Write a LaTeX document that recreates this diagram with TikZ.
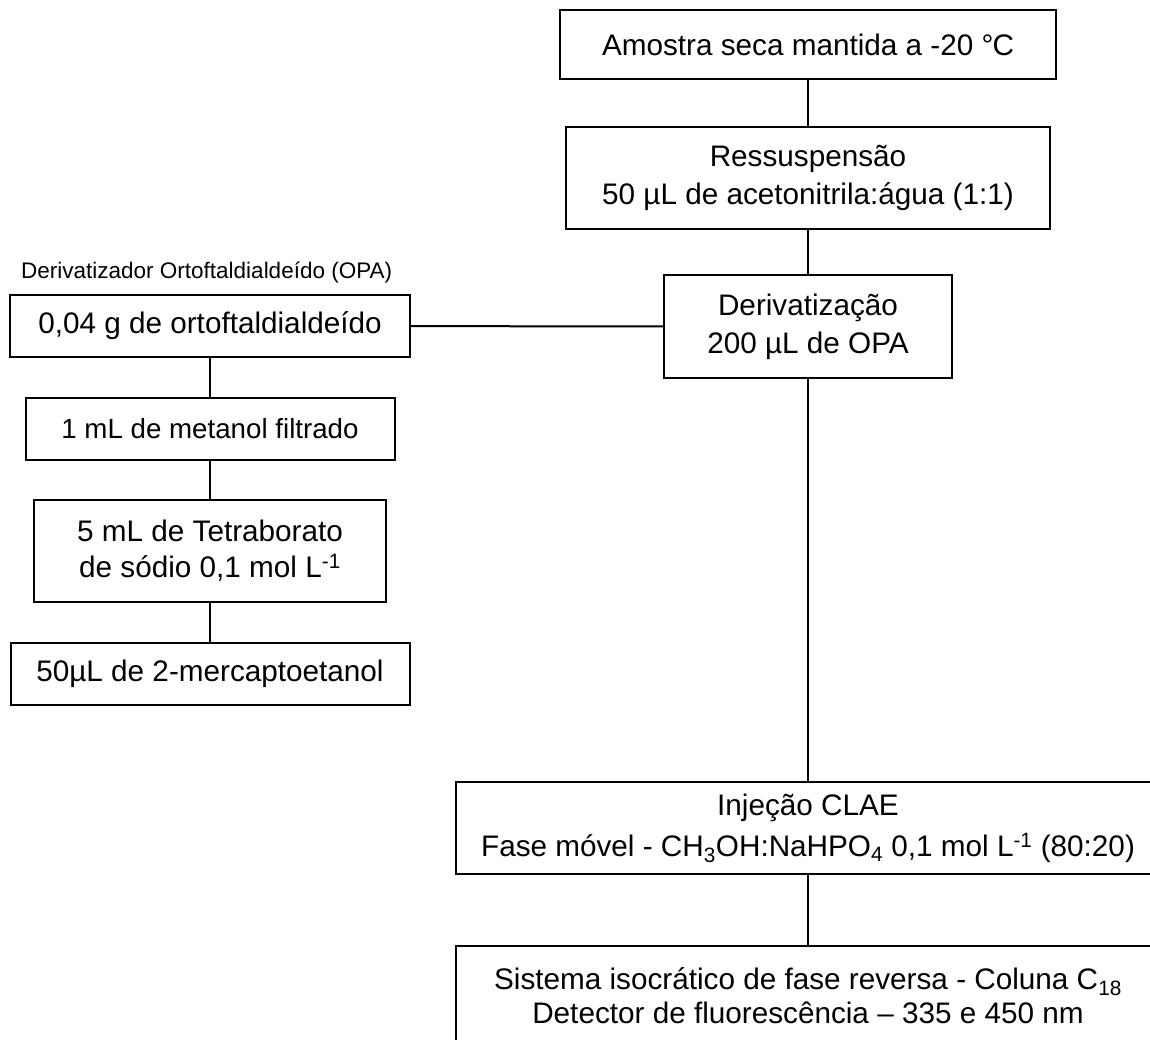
\documentclass[tikz,border=0pt]{standalone}
\usepackage{fontspec}
\setmainfont{Liberation Sans}
\begin{document}
\begin{tikzpicture}[x=1pt,y=-1pt,
  box/.style={draw, line width=2pt, inner sep=0pt, align=center,
    font=\fontsize{29.7}{38}\selectfont},
  conn/.style={line width=2pt}]
\useasboundingbox (0,0) rectangle (1150,1040);
\fill[white] (0,0) rectangle (1150,1040);
\clip (0,0) rectangle (1150,1040);
% right column
\node[box, minimum width=496pt, minimum height=69pt] (n1) at (808,44.5)
  {Amostra seca mantida a -20 °\kern-1pt C};
\node[box, minimum width=484pt, minimum height=102pt] (n2) at (808,178)
  {Ressuspensão\\50 µL de acetonitrila:água (1:1)};
\node[box, minimum width=288pt, minimum height=103pt] (n3) at (808,326.5)
  {Derivatização\\200 µL de OPA};
\node[box, minimum width=704pt, minimum height=92pt] (e) at (808,828)
  {Injeção CLAE\\[3pt]Fase móvel - CH\textsubscript{3}OH:NaHPO\textsubscript{4} 0,1 mol L\textsuperscript{-1} (80:20)};
\node[box, minimum width=704pt, minimum height=100pt, font=\fontsize{29.7}{34}\selectfont] (f) at (808,996)
  {Sistema isocrático de fase reversa - Coluna C\textsubscript{18}\\Detector de fluorescência – 335 e 450 nm};
% left column
\node[anchor=base west, inner sep=0pt, font=\fontsize{22.5}{27}\selectfont] (lbl) at (21,279)
  {Derivatizador Ortoftaldialdeído (OPA)};
\node[box, minimum width=400pt, minimum height=62pt] (a) at (210,326)
  {0,04 g de ortoftaldialdeído};
\node[box, minimum width=369pt, minimum height=62pt, font=\fontsize{27.7}{33}\selectfont] (b) at (210,429)
  {1 mL de metanol filtrado};
\node[box, minimum width=352pt, minimum height=102pt, font=\fontsize{29.7}{36}\selectfont] (c) at (210,551)
  {5 mL de Tetraborato\\de sódio 0,1 mol L\textsuperscript{-1}};
\node[box, minimum width=399pt, minimum height=62pt] (d) at (210,674)
  {50µL de 2-mercaptoetanol};
% connectors
\draw[conn] (n1) -- (n2);
\draw[conn] (n2) -- (n3);
\draw[conn] (n3) -- (e);
\draw[conn] (e) -- (f);
\draw[conn] (a) -- (n3);
\draw[conn] (a) -- (b);
\draw[conn] (b) -- (c);
\draw[conn] (c) -- (d);
\end{tikzpicture}
\end{document}
